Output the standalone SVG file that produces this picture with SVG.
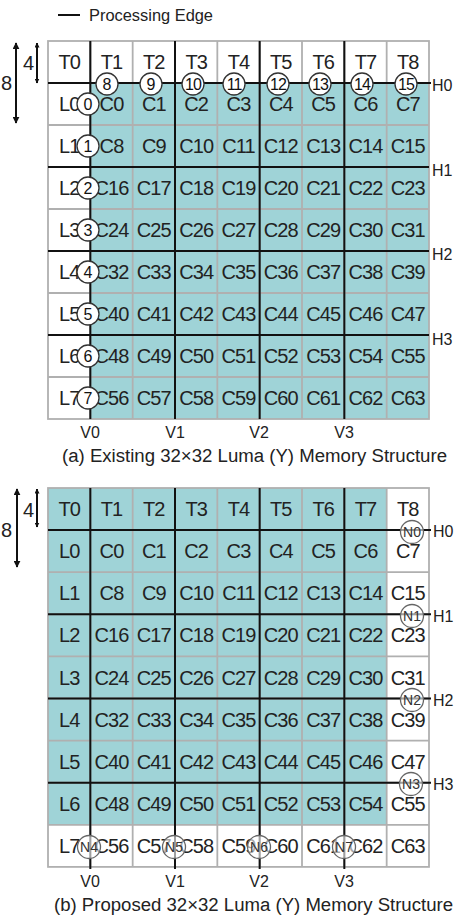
<svg xmlns="http://www.w3.org/2000/svg" width="457" height="919" viewBox="0 0 457 919">
<style>
text{font-family:"Liberation Sans",Arial,sans-serif;fill:#222}
.t{font-size:20px;text-anchor:middle;letter-spacing:-0.9px}
.lb{font-size:16px}
.lbc{font-size:16px;text-anchor:middle}
.cap{font-size:18px}
.g{stroke:#b0b0b0;stroke-width:1.8;fill:none}
.e{stroke:#111;stroke-width:2;fill:none}
.ca{fill:#fff;stroke:#333;stroke-width:1.3}
.cb{fill:#fff;fill-opacity:0.6;stroke:#666;stroke-width:1.3}
.na{font-size:16px;text-anchor:middle;fill:#111}
.nb{font-size:14px;text-anchor:middle;fill:#333}
.ar{stroke:#111;stroke-width:2;fill:none}
</style>
<defs>
<marker id="ah" viewBox="0 0 10 10" refX="9" refY="5" markerWidth="5" markerHeight="5" orient="auto-start-reverse" markerUnits="userSpaceOnUse">
<path d="M0,0 L10,5 L0,10 z" fill="#111"/>
</marker>
<marker id="ah2" viewBox="0 0 10 10" refX="9" refY="5" markerWidth="7" markerHeight="7" orient="auto-start-reverse" markerUnits="userSpaceOnUse">
<path d="M0,0 L10,5 L0,10 z" fill="#111"/>
</marker>
</defs>

<g id="legend">
<line x1="58" y1="15" x2="80" y2="15" class="e"/>
<text x="89" y="21" class="lb" textLength="124" lengthAdjust="spacingAndGlyphs" fill="#333">Processing Edge</text>
</g>

<g id="gridA">
<rect x="48" y="41" width="381" height="378" fill="#fff"/>
<rect x="90.33" y="83" width="338.67" height="336" fill="#9fd3d7"/>
<g class="g">
<rect x="48" y="41" width="381" height="378"/>
<path d="M90.33,41V419M132.67,41V419M175,41V419M217.33,41V419M259.67,41V419M302,41V419M344.33,41V419M386.67,41V419"/>
<path d="M48,83H429M48,125H429M48,167H429M48,209H429M48,251H429M48,293H429M48,335H429M48,377H429"/>
</g>
</g>

<g id="edges">
<path class="e" d="M90.33,41V419M175,41V419M259.67,41V419M344.33,41V419"/>
<path class="e" d="M48,83H431M48,167H429M48,251H429M48,335H429"/>
</g>

<g id="cellsA">
<text class="t" x="69.2" y="69">T0</text><text class="t" x="111.5" y="69">T1</text><text class="t" x="153.8" y="69">T2</text><text class="t" x="196.2" y="69">T3</text><text class="t" x="238.5" y="69">T4</text><text class="t" x="280.8" y="69">T5</text><text class="t" x="323.2" y="69">T6</text><text class="t" x="365.5" y="69">T7</text><text class="t" x="407.8" y="69">T8</text>
<text class="t" x="69.2" y="111">L0</text><text class="t" x="111.5" y="111">C0</text><text class="t" x="153.8" y="111">C1</text><text class="t" x="196.2" y="111">C2</text><text class="t" x="238.5" y="111">C3</text><text class="t" x="280.8" y="111">C4</text><text class="t" x="323.2" y="111">C5</text><text class="t" x="365.5" y="111">C6</text><text class="t" x="407.8" y="111">C7</text>
<text class="t" x="69.2" y="153">L1</text><text class="t" x="111.5" y="153">C8</text><text class="t" x="153.8" y="153">C9</text><text class="t" x="196.2" y="153">C10</text><text class="t" x="238.5" y="153">C11</text><text class="t" x="280.8" y="153">C12</text><text class="t" x="323.2" y="153">C13</text><text class="t" x="365.5" y="153">C14</text><text class="t" x="407.8" y="153">C15</text>
<text class="t" x="69.2" y="195">L2</text><text class="t" x="111.5" y="195">C16</text><text class="t" x="153.8" y="195">C17</text><text class="t" x="196.2" y="195">C18</text><text class="t" x="238.5" y="195">C19</text><text class="t" x="280.8" y="195">C20</text><text class="t" x="323.2" y="195">C21</text><text class="t" x="365.5" y="195">C22</text><text class="t" x="407.8" y="195">C23</text>
<text class="t" x="69.2" y="237">L3</text><text class="t" x="111.5" y="237">C24</text><text class="t" x="153.8" y="237">C25</text><text class="t" x="196.2" y="237">C26</text><text class="t" x="238.5" y="237">C27</text><text class="t" x="280.8" y="237">C28</text><text class="t" x="323.2" y="237">C29</text><text class="t" x="365.5" y="237">C30</text><text class="t" x="407.8" y="237">C31</text>
<text class="t" x="69.2" y="279">L4</text><text class="t" x="111.5" y="279">C32</text><text class="t" x="153.8" y="279">C33</text><text class="t" x="196.2" y="279">C34</text><text class="t" x="238.5" y="279">C35</text><text class="t" x="280.8" y="279">C36</text><text class="t" x="323.2" y="279">C37</text><text class="t" x="365.5" y="279">C38</text><text class="t" x="407.8" y="279">C39</text>
<text class="t" x="69.2" y="321">L5</text><text class="t" x="111.5" y="321">C40</text><text class="t" x="153.8" y="321">C41</text><text class="t" x="196.2" y="321">C42</text><text class="t" x="238.5" y="321">C43</text><text class="t" x="280.8" y="321">C44</text><text class="t" x="323.2" y="321">C45</text><text class="t" x="365.5" y="321">C46</text><text class="t" x="407.8" y="321">C47</text>
<text class="t" x="69.2" y="363">L6</text><text class="t" x="111.5" y="363">C48</text><text class="t" x="153.8" y="363">C49</text><text class="t" x="196.2" y="363">C50</text><text class="t" x="238.5" y="363">C51</text><text class="t" x="280.8" y="363">C52</text><text class="t" x="323.2" y="363">C53</text><text class="t" x="365.5" y="363">C54</text><text class="t" x="407.8" y="363">C55</text>
<text class="t" x="69.2" y="405">L7</text><text class="t" x="111.5" y="405">C56</text><text class="t" x="153.8" y="405">C57</text><text class="t" x="196.2" y="405">C58</text><text class="t" x="238.5" y="405">C59</text><text class="t" x="280.8" y="405">C60</text><text class="t" x="323.2" y="405">C61</text><text class="t" x="365.5" y="405">C62</text><text class="t" x="407.8" y="405">C63</text>
</g>

<g id="nodesA">
<g id="n0"><circle class="ca" cx="88" cy="104" r="11"/><text class="na" x="88" y="110">0</text></g>
<g id="n1"><circle class="ca" cx="88" cy="146" r="11"/><text class="na" x="88" y="152">1</text></g>
<g id="n2"><circle class="ca" cx="88" cy="188" r="11"/><text class="na" x="88" y="194">2</text></g>
<g id="n3"><circle class="ca" cx="88" cy="230" r="11"/><text class="na" x="88" y="236">3</text></g>
<g id="n4"><circle class="ca" cx="88" cy="272" r="11"/><text class="na" x="88" y="278">4</text></g>
<g id="n5"><circle class="ca" cx="88" cy="314" r="11"/><text class="na" x="88" y="320">5</text></g>
<g id="n6"><circle class="ca" cx="88" cy="356" r="11"/><text class="na" x="88" y="362">6</text></g>
<g id="n7"><circle class="ca" cx="88" cy="398" r="11"/><text class="na" x="88" y="404">7</text></g>
<g id="n8"><circle class="ca" cx="107" cy="84" r="11"/><text class="na" x="107" y="90">8</text></g>
<g id="n9"><circle class="ca" cx="151" cy="84" r="11"/><text class="na" x="151" y="90">9</text></g>
<g id="n10"><circle class="ca" cx="193" cy="84" r="11"/><text class="na" x="193" y="90" letter-spacing="-1">10</text></g>
<g id="n11"><circle class="ca" cx="234" cy="84" r="11"/><text class="na" x="234" y="90" letter-spacing="-1">11</text></g>
<g id="n12"><circle class="ca" cx="278" cy="84" r="11"/><text class="na" x="278" y="90" letter-spacing="-1">12</text></g>
<g id="n13"><circle class="ca" cx="320" cy="84" r="11"/><text class="na" x="320" y="90" letter-spacing="-1">13</text></g>
<g id="n14"><circle class="ca" cx="362" cy="84" r="11"/><text class="na" x="362" y="90" letter-spacing="-1">14</text></g>
<g id="n15"><circle class="ca" cx="406" cy="84" r="11"/><text class="na" x="406" y="90" letter-spacing="-1">15</text></g>
</g>

<g id="labelsA">
<text class="lb" x="432" y="91">H0</text>
<text class="lb" x="432" y="176">H1</text>
<text class="lb" x="432" y="260">H2</text>
<text class="lb" x="432" y="345">H3</text>
<text class="lbc" x="90" y="438">V0</text>
<text class="lbc" x="175" y="438">V1</text>
<text class="lbc" x="259" y="438">V2</text>
<text class="lbc" x="344" y="438">V3</text>
<text class="cap" x="62" y="462" textLength="385" lengthAdjust="spacingAndGlyphs">(a) Existing 32×32 Luma (Y) Memory Structure</text>
</g>

<g id="dimA">
<line class="ar" x1="16" y1="43" x2="16" y2="123" marker-start="url(#ah2)" marker-end="url(#ah2)"/>
<line class="ar" x1="37" y1="43" x2="37" y2="83" marker-start="url(#ah)" marker-end="url(#ah)"/>
<text class="t" x="6" y="90">8</text>
<text class="t" x="28" y="70">4</text>
</g>

<g id="gridB">
<rect x="48" y="488" width="381" height="378.9" fill="#fff"/>
<rect x="48" y="488" width="338.67" height="336.8" fill="#9fd3d7"/>
<g class="g">
<rect x="48" y="488" width="381" height="378.9"/>
<path d="M90.33,488V866.9M132.67,488V866.9M175,488V866.9M217.33,488V866.9M259.67,488V866.9M302,488V866.9M344.33,488V866.9M386.67,488V866.9"/>
<path d="M48,530.1H429M48,572.2H429M48,614.3H429M48,656.4H429M48,698.5H429M48,740.6H429M48,782.7H429M48,824.8H429"/>
</g>
</g>

<g id="edgesB">
<path class="e" d="M90.33,488V869M175,488V869M259.67,488V869M344.33,488V869"/>
<path class="e" d="M48,530.1H431M48,614.3H431M48,698.5H431M48,782.7H431"/>
</g>

<g id="cellsB">
<text class="t" x="69.2" y="516">T0</text><text class="t" x="111.5" y="516">T1</text><text class="t" x="153.8" y="516">T2</text><text class="t" x="196.2" y="516">T3</text><text class="t" x="238.5" y="516">T4</text><text class="t" x="280.8" y="516">T5</text><text class="t" x="323.2" y="516">T6</text><text class="t" x="365.5" y="516">T7</text><text class="t" x="407.8" y="516">T8</text>
<text class="t" x="69.2" y="558.2">L0</text><text class="t" x="111.5" y="558.2">C0</text><text class="t" x="153.8" y="558.2">C1</text><text class="t" x="196.2" y="558.2">C2</text><text class="t" x="238.5" y="558.2">C3</text><text class="t" x="280.8" y="558.2">C4</text><text class="t" x="323.2" y="558.2">C5</text><text class="t" x="365.5" y="558.2">C6</text><text class="t" x="407.8" y="558.2">C7</text>
<text class="t" x="69.2" y="600.3">L1</text><text class="t" x="111.5" y="600.3">C8</text><text class="t" x="153.8" y="600.3">C9</text><text class="t" x="196.2" y="600.3">C10</text><text class="t" x="238.5" y="600.3">C11</text><text class="t" x="280.8" y="600.3">C12</text><text class="t" x="323.2" y="600.3">C13</text><text class="t" x="365.5" y="600.3">C14</text><text class="t" x="407.8" y="600.3">C15</text>
<text class="t" x="69.2" y="642.4">L2</text><text class="t" x="111.5" y="642.4">C16</text><text class="t" x="153.8" y="642.4">C17</text><text class="t" x="196.2" y="642.4">C18</text><text class="t" x="238.5" y="642.4">C19</text><text class="t" x="280.8" y="642.4">C20</text><text class="t" x="323.2" y="642.4">C21</text><text class="t" x="365.5" y="642.4">C22</text><text class="t" x="407.8" y="642.4">C23</text>
<text class="t" x="69.2" y="684.5">L3</text><text class="t" x="111.5" y="684.5">C24</text><text class="t" x="153.8" y="684.5">C25</text><text class="t" x="196.2" y="684.5">C26</text><text class="t" x="238.5" y="684.5">C27</text><text class="t" x="280.8" y="684.5">C28</text><text class="t" x="323.2" y="684.5">C29</text><text class="t" x="365.5" y="684.5">C30</text><text class="t" x="407.8" y="684.5">C31</text>
<text class="t" x="69.2" y="726.6">L4</text><text class="t" x="111.5" y="726.6">C32</text><text class="t" x="153.8" y="726.6">C33</text><text class="t" x="196.2" y="726.6">C34</text><text class="t" x="238.5" y="726.6">C35</text><text class="t" x="280.8" y="726.6">C36</text><text class="t" x="323.2" y="726.6">C37</text><text class="t" x="365.5" y="726.6">C38</text><text class="t" x="407.8" y="726.6">C39</text>
<text class="t" x="69.2" y="768.7">L5</text><text class="t" x="111.5" y="768.7">C40</text><text class="t" x="153.8" y="768.7">C41</text><text class="t" x="196.2" y="768.7">C42</text><text class="t" x="238.5" y="768.7">C43</text><text class="t" x="280.8" y="768.7">C44</text><text class="t" x="323.2" y="768.7">C45</text><text class="t" x="365.5" y="768.7">C46</text><text class="t" x="407.8" y="768.7">C47</text>
<text class="t" x="69.2" y="810.8">L6</text><text class="t" x="111.5" y="810.8">C48</text><text class="t" x="153.8" y="810.8">C49</text><text class="t" x="196.2" y="810.8">C50</text><text class="t" x="238.5" y="810.8">C51</text><text class="t" x="280.8" y="810.8">C52</text><text class="t" x="323.2" y="810.8">C53</text><text class="t" x="365.5" y="810.8">C54</text><text class="t" x="407.8" y="810.8">C55</text>
<text class="t" x="69.2" y="852.9">L7</text><text class="t" x="111.5" y="852.9">C56</text><text class="t" x="153.8" y="852.9">C57</text><text class="t" x="196.2" y="852.9">C58</text><text class="t" x="238.5" y="852.9">C59</text><text class="t" x="280.8" y="852.9">C60</text><text class="t" x="323.2" y="852.9">C61</text><text class="t" x="365.5" y="852.9">C62</text><text class="t" x="407.8" y="852.9">C63</text>
</g>

<g id="nodesB">
<g id="N0"><circle class="cb" cx="412" cy="532" r="11.5"/><text class="nb" x="412" y="537">N0</text></g>
<g id="N1"><circle class="cb" cx="412" cy="616" r="11.5"/><text class="nb" x="412" y="621">N1</text></g>
<g id="N2"><circle class="cb" cx="412" cy="700" r="11.5"/><text class="nb" x="412" y="705">N2</text></g>
<g id="N3"><circle class="cb" cx="411" cy="784" r="11.5"/><text class="nb" x="411" y="789">N3</text></g>
<g id="N4"><circle class="cb" cx="89" cy="847" r="11.5"/><text class="nb" x="89" y="852">N4</text></g>
<g id="N5"><circle class="cb" cx="174" cy="847" r="11.5"/><text class="nb" x="174" y="852">N5</text></g>
<g id="N6"><circle class="cb" cx="259" cy="847" r="11.5"/><text class="nb" x="259" y="852">N6</text></g>
<g id="N7"><circle class="cb" cx="344" cy="847" r="11.5"/><text class="nb" x="344" y="852">N7</text></g>
</g>

<g id="labelsB">
<text class="lb" x="433" y="537">H0</text>
<text class="lb" x="433" y="622">H1</text>
<text class="lb" x="433" y="706">H2</text>
<text class="lb" x="433" y="790">H3</text>
<text class="lbc" x="90" y="887">V0</text>
<text class="lbc" x="175" y="887">V1</text>
<text class="lbc" x="259" y="887">V2</text>
<text class="lbc" x="344" y="887">V3</text>
<text class="cap" x="54" y="911" textLength="399" lengthAdjust="spacingAndGlyphs">(b) Proposed 32×32 Luma (Y) Memory Structure</text>
</g>

<g id="dimB">
<line class="ar" x1="17" y1="489" x2="17" y2="567" marker-start="url(#ah2)" marker-end="url(#ah2)"/>
<line class="ar" x1="37" y1="489" x2="37" y2="527" marker-start="url(#ah)" marker-end="url(#ah)"/>
<text class="t" x="6" y="537">8</text>
<text class="t" x="28" y="517">4</text>
</g>
</svg>
